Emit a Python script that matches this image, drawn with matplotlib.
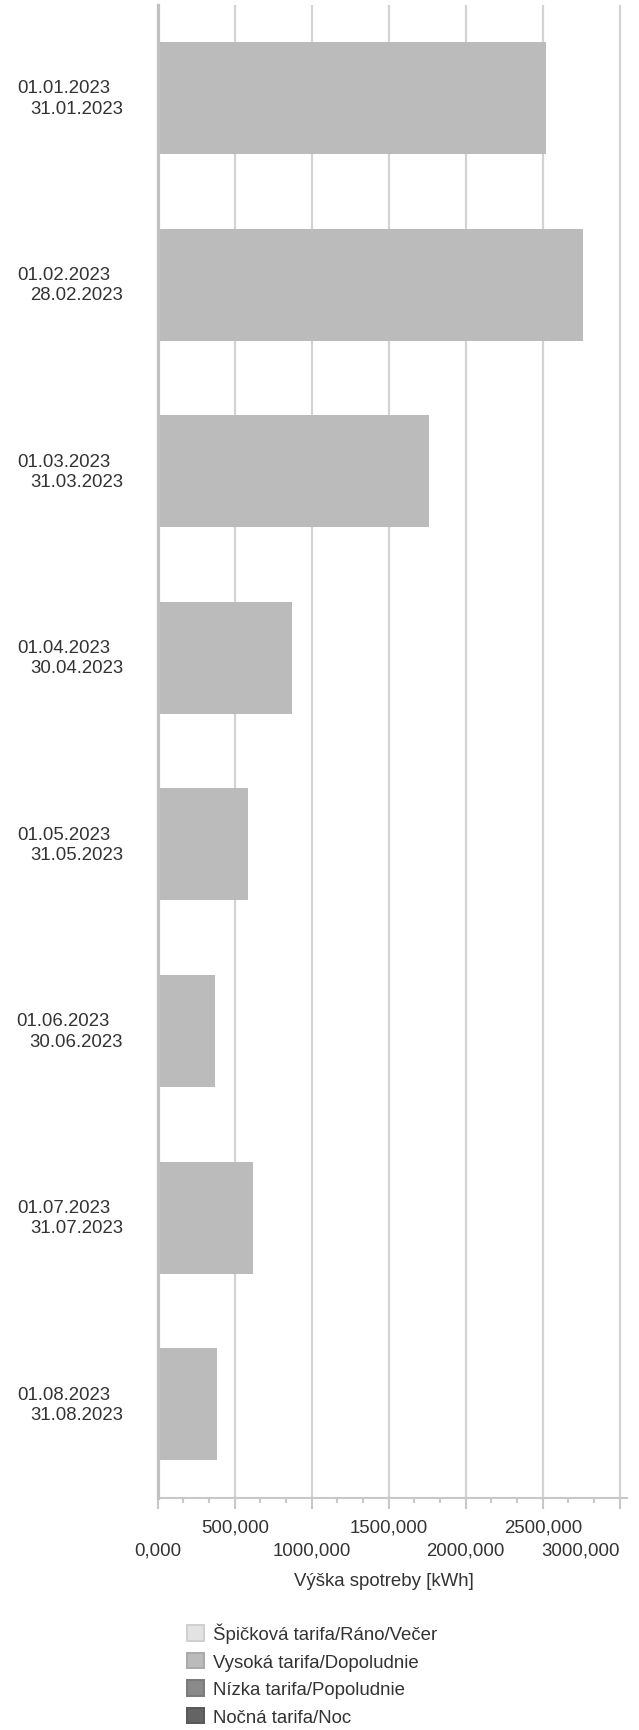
import matplotlib
matplotlib.use("Agg")
import matplotlib.pyplot as plt
from matplotlib.patches import Patch
from matplotlib.ticker import MultipleLocator

plt.rcParams['font.family'] = ['Liberation Sans', 'DejaVu Sans']

period_start = ['01.01.2023', '01.02.2023', '01.03.2023', '01.04.2023',
                '01.05.2023', '01.06.2023', '01.07.2023', '01.08.2023']
period_end = ['31.01.2023', '28.02.2023', '31.03.2023', '30.04.2023',
              '31.05.2023', '30.06.2023', '31.07.2023', '31.08.2023']

# consumption per tariff [kWh]; only the high tariff has values
peak = [0, 0, 0, 0, 0, 0, 0, 0]
high = [2521000, 2762000, 1762000, 872000, 586000, 372000, 619000, 385000]
low = [0, 0, 0, 0, 0, 0, 0, 0]
night = [0, 0, 0, 0, 0, 0, 0, 0]

series_names = ['Špičková tarifa/Ráno/Večer', 'Vysoká tarifa/Dopoludnie',
                'Nízka tarifa/Popoludnie', 'Nočná tarifa/Noc']
series_colors = ['#e3e3e3', '#bbbbbb', '#898989', '#646464']
series_edges = ['#cfcfcf', '#a9a9a9', '#7a7a7a', '#575757']

x_ticks = [0, 500000, 1000000, 1500000, 2000000, 2500000, 3000000]
x_tick_labels = ['0,000', '500,000', '1000,000', '1500,000',
                 '2000,000', '2500,000', '3000,000']

text_color = '#333333'
fs = 13.4

fig = plt.figure(figsize=(6.39, 17.31), dpi=100)
ax = fig.add_axes([157.7 / 639, (1731 - 1498.5) / 1731,
                   (627 - 157.7) / 639, (1498.5 - 5.7) / 1731])

pos = list(range(len(high)))
left = [0] * len(high)
for vals, col in zip([peak, high, low, night], series_colors):
    ax.barh(pos, vals, height=0.6, left=left, color=col, zorder=2)
    left = [a + b for a, b in zip(left, vals)]

ax.set_ylim(len(high) - 0.5, -0.5)
ax.set_xlim(0, 3047000)
ax.set_yticks([])

for sp in ['top', 'right']:
    ax.spines[sp].set_visible(False)
ax.spines['left'].set_color('#c0c0c0')
ax.spines['left'].set_linewidth(2.3)
ax.spines['left'].set_zorder(3)
ax.spines['bottom'].set_color('#c8c8c8')
ax.spines['bottom'].set_linewidth(1.5)

ax.set_xticks(x_ticks)
ax.set_xticklabels(x_tick_labels, fontsize=fs, color=text_color)
ax.xaxis.set_minor_locator(MultipleLocator(500000 / 3))
ax.tick_params(axis='x', which='major', length=7.9, width=1.5, color='#c8c8c8')
ax.tick_params(axis='x', which='minor', length=3.6, width=1.5, color='#c8c8c8')
ax.grid(axis='x', which='major', color='#d3d3d3', linewidth=1.6, zorder=0)
ax.set_axisbelow(True)

for i, tick in enumerate(ax.xaxis.get_major_ticks()):
    tick.set_pad(7.0 if i % 2 else 23.6)
ax.get_xticklabels()[-1].set_horizontalalignment('right')

for y, a, b in zip(pos, period_start, period_end):
    ax.text(-0.1016, y - 0.054, a, transform=ax.get_yaxis_transform(),
            ha='right', va='center', fontsize=fs, color=text_color)
    ax.text(-0.0739, y + 0.054, b, transform=ax.get_yaxis_transform(),
            ha='right', va='center', fontsize=fs, color=text_color)

ax.set_xlabel('Výška spotreby [kWh]', fontsize=fs, color=text_color)
ax.xaxis.set_label_coords(0.482, -0.0553)
ax.xaxis.label.set_verticalalignment('center')

handles = [Patch(facecolor=c, edgecolor=e, linewidth=1.4)
           for c, e in zip(series_colors, series_edges)]
fig.legend(handles, series_names, loc='upper left',
           bbox_to_anchor=(187 / 639, 1 - 1624 / 1731),
           frameon=False, fontsize=fs, labelcolor=text_color,
           handlelength=0.9, handleheight=0.9, handletextpad=0.5,
           labelspacing=0.5, borderpad=0, borderaxespad=0)

fig.savefig('out.png', dpi=100)
